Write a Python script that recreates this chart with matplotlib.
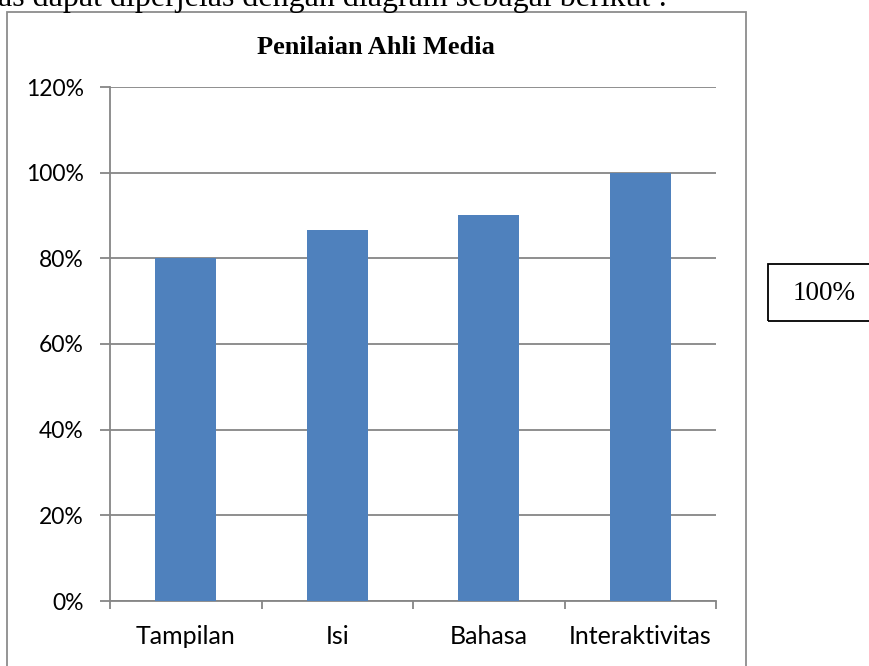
import matplotlib
matplotlib.use('Agg')
import matplotlib.pyplot as plt
from matplotlib.patches import Rectangle
from matplotlib.ticker import FuncFormatter

# data
categories = ['Tampilan', 'Isi', 'Bahasa', 'Interaktivitas']
scores = [0.80, 0.8667, 0.90, 1.00]
y_ticks = [0, 0.2, 0.4, 0.6, 0.8, 1.0, 1.2]
legend_text = '100%'
title = 'Penilaian Ahli Media'
top_text = 'as dapat diperjelas dengan diagram sebagai berikut :'

W, H = 869, 666
fig = plt.figure(figsize=(W / 100, H / 100), dpi=100)
fig.patch.set_facecolor('white')

grid_col = '#868686'
bar_col = '#4F81BD'

# plot area
ax = fig.add_axes([110 / W, 1 - 601 / H, 606 / W, 514 / H])
x = list(range(len(categories)))
ax.bar(x, scores, width=0.4, color=bar_col, zorder=3)
ax.set_xlim(-0.5, len(categories) - 0.5)
ax.set_ylim(0, 1.2)

ax.set_yticks(y_ticks)
ax.yaxis.set_major_formatter(FuncFormatter(lambda v, p: '%d%%' % round(v * 100)))
ax.yaxis.grid(True, color=grid_col, linewidth=1.3, zorder=0)

# category boundaries get the tick marks, centers get the labels
ax.set_xticks([i - 0.5 for i in range(len(categories) + 1)])
ax.set_xticklabels([])
ax.set_xticks(x, minor=True)
ax.set_xticklabels(categories, minor=True)
ax.tick_params(axis='x', which='major', length=6, color=grid_col, width=1.3)
ax.tick_params(axis='x', which='minor', length=0, pad=17, labelsize=18)
ax.tick_params(axis='y', length=7, color=grid_col, width=1.3, pad=12, labelsize=16.5)

for lab in ax.get_xticklabels(minor=True) + ax.get_yticklabels():
    lab.set_fontfamily('Lato')
    lab.set_color('black')

for s in ['top', 'right']:
    ax.spines[s].set_visible(False)
for s in ['left', 'bottom']:
    ax.spines[s].set_color(grid_col)
    ax.spines[s].set_linewidth(1.3)

# chart frame
fig.patches.append(Rectangle((7 / W, -0.01), (746 - 7) / W, 1.01 - 12 / H,
                             transform=fig.transFigure, fill=False,
                             edgecolor='#8c8c8c', linewidth=1.3))

fig.text(376 / W, 1 - 48 / H, title, ha='center', va='center',
         fontsize=19, fontweight='bold', family='Liberation Serif')

# surrounding document text (cut off at the top, as in the source)
fig.text(-2 / W, 1 - 6 / H, top_text, ha='left', va='baseline',
         fontsize=23, family='Liberation Serif')

fig.patches.append(Rectangle((768 / W, 1 - 321 / H), 110 / W, 57 / H,
                             transform=fig.transFigure, fill=False,
                             edgecolor='black', linewidth=1.3))
fig.text(824 / W, 1 - 293 / H, legend_text, ha='center', va='center',
         fontsize=19.5, family='Liberation Serif')

fig.savefig('out.png', dpi=100)
